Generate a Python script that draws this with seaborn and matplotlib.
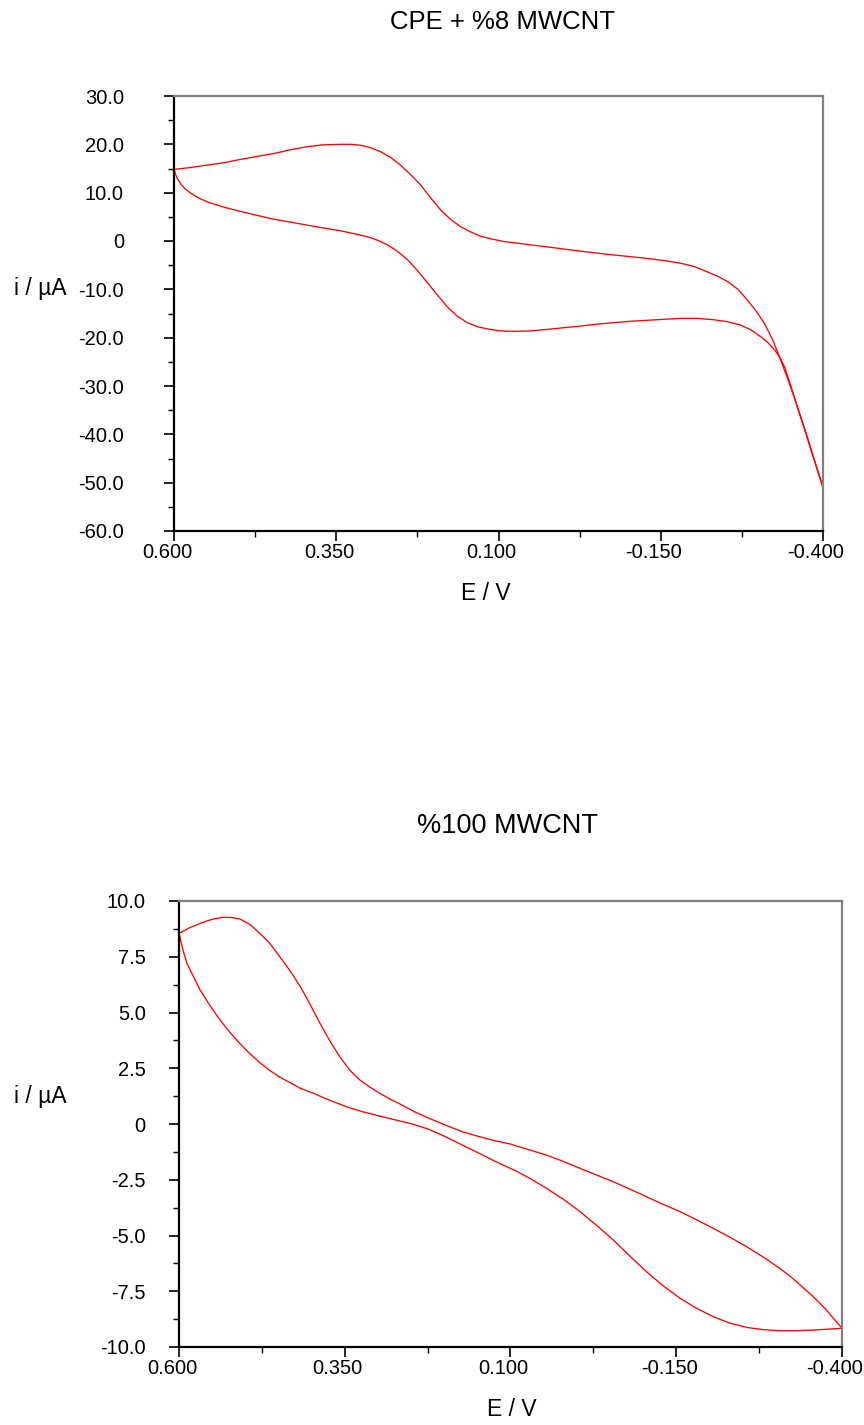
import matplotlib
matplotlib.use("Agg")
import matplotlib.pyplot as plt
import matplotlib.transforms as mtransforms
from matplotlib.ticker import FixedLocator, MultipleLocator
import pandas as pd
import seaborn as sns

# CPE + %8 MWCNT: cathodic sweep 0.600 -> -0.400 V
cpe_fwd_e = [0.600, 0.575, 0.549, 0.523, 0.497, 0.472, 0.446, 0.420, 0.395, 0.370,
             0.343, 0.327, 0.312, 0.297, 0.282, 0.266, 0.251, 0.236, 0.220, 0.205,
             0.189, 0.174, 0.159, 0.143, 0.128, 0.110, 0.092, 0.077, 0.050, 0.026,
             0.000, -0.026, -0.052, -0.078, -0.104, -0.129, -0.155, -0.181, -0.202, -0.222,
             -0.238, -0.253, -0.269, -0.284, -0.297, -0.310, -0.323, -0.335, -0.348, -0.361,
             -0.374, -0.387, -0.400]
cpe_fwd_i = [14.8, 15.2, 15.7, 16.2, 16.9, 17.5, 18.1, 18.9, 19.5, 19.9,
             20.0, 20.0, 19.8, 19.3, 18.5, 17.3, 15.7, 13.8, 11.6, 9.0,
             6.4, 4.5, 3.0, 1.9, 1.0, 0.4, -0.1, -0.35, -0.8, -1.2,
             -1.65, -2.1, -2.5, -2.9, -3.25, -3.6, -4.05, -4.6, -5.3, -6.4,
             -7.3, -8.4, -10.0, -12.3, -14.5, -17.1, -20.6, -24.7, -29.4, -34.4,
             -39.8, -45.4, -51.0]
# CPE + %8 MWCNT: anodic sweep -0.400 -> 0.600 V
cpe_rev_e = [-0.400, -0.387, -0.374, -0.361, -0.351, -0.341, -0.334, -0.326, -0.315, -0.304,
             -0.289, -0.273, -0.253, -0.232, -0.207, -0.181, -0.155, -0.129, -0.104, -0.078,
             -0.052, -0.026, 0.000, 0.026, 0.050, 0.077, 0.097, 0.117, 0.133, 0.148,
             0.164, 0.179, 0.194, 0.209, 0.225, 0.240, 0.256, 0.271, 0.287, 0.302,
             0.322, 0.343, 0.370, 0.395, 0.420, 0.446, 0.472, 0.497, 0.523, 0.549,
             0.562, 0.574, 0.583, 0.590, 0.596, 0.600]
cpe_rev_i = [-51.0, -45.6, -40.0, -34.6, -30.2, -26.1, -24.2, -22.6, -21.0, -19.8,
             -18.4, -17.4, -16.7, -16.3, -16.0, -16.0, -16.2, -16.4, -16.6, -16.9,
             -17.2, -17.6, -17.95, -18.3, -18.6, -18.7, -18.6, -18.2, -17.7, -16.9,
             -15.5, -13.6, -11.2, -8.7, -6.1, -3.9, -2.1, -0.8, 0.2, 0.9,
             1.5, 2.1, 2.7, 3.3, 3.9, 4.5, 5.3, 6.1, 7.0, 8.1,
             8.9, 9.9, 10.8, 11.9, 13.2, 14.8]

# %100 MWCNT: cathodic sweep 0.600 -> -0.400 V
mw_fwd_e = [0.600, 0.584, 0.568, 0.550, 0.533, 0.520, 0.508, 0.493, 0.478, 0.463,
            0.448, 0.432, 0.417, 0.402, 0.387, 0.372, 0.357, 0.342, 0.327, 0.312,
            0.297, 0.282, 0.267, 0.245, 0.223, 0.198, 0.173, 0.148, 0.122, 0.100,
            0.087, 0.046, 0.020, -0.005, -0.030, -0.055, -0.080, -0.105, -0.130, -0.156,
            -0.181, -0.206, -0.231, -0.256, -0.281, -0.306, -0.322, -0.337, -0.352, -0.367,
            -0.377, -0.387, -0.394, -0.400]
mw_fwd_i = [8.55, 8.8, 9.0, 9.18, 9.27, 9.26, 9.19, 8.95, 8.55, 8.1,
            7.5, 6.85, 6.16, 5.35, 4.5, 3.7, 3.0, 2.4, 1.97, 1.65,
            1.38, 1.12, 0.9, 0.55, 0.26, -0.05, -0.34, -0.56, -0.76, -0.9,
            -1.02, -1.39, -1.68, -1.99, -2.29, -2.59, -2.92, -3.26, -3.6, -3.93,
            -4.3, -4.68, -5.08, -5.5, -5.96, -6.47, -6.83, -7.22, -7.62, -8.04,
            -8.36, -8.71, -8.95, -9.16]
# %100 MWCNT: anodic sweep -0.400 -> 0.600 V
mw_rev_e = [-0.400, -0.380, -0.357, -0.331, -0.306, -0.281, -0.256, -0.231, -0.206, -0.181,
            -0.156, -0.130, -0.105, -0.080, -0.055, -0.030, -0.005, 0.020, 0.046, 0.070,
            0.092, 0.122, 0.148, 0.173, 0.198, 0.223, 0.248, 0.273, 0.298, 0.323,
            0.348, 0.374, 0.395, 0.417, 0.432, 0.448, 0.463, 0.478, 0.493, 0.508,
            0.523, 0.538, 0.553, 0.568, 0.578, 0.588, 0.594, 0.600]
mw_rev_i = [-9.16, -9.2, -9.24, -9.27, -9.27, -9.22, -9.12, -8.93, -8.64, -8.27,
            -7.82, -7.25, -6.62, -5.92, -5.2, -4.55, -3.93, -3.38, -2.88, -2.45,
            -2.1, -1.69, -1.3, -0.94, -0.57, -0.24, 0.0, 0.18, 0.36, 0.55,
            0.78, 1.08, 1.35, 1.6, 1.85, 2.1, 2.4, 2.75, 3.15, 3.6,
            4.1, 4.66, 5.3, 6.0, 6.6, 7.2, 7.8, 8.55]

x_ticks = [0.600, 0.350, 0.100, -0.150, -0.400]
x_tick_labels = ["0.600", "0.350", "0.100", "-0.150", "-0.400"]

cpe_y_ticks = [30, 20, 10, 0, -10, -20, -30, -40, -50, -60]
cpe_y_labels = ["30.0", "20.0", "10.0", "0", "-10.0", "-20.0", "-30.0", "-40.0", "-50.0", "-60.0"]
mw_y_ticks = [10, 7.5, 5, 2.5, 0, -2.5, -5, -7.5, -10]
mw_y_labels = ["10.0", "7.5", "5.0", "2.5", "0", "-2.5", "-5.0", "-7.5", "-10.0"]

sns.set_style("white")
plt.rcParams["font.family"] = ["Liberation Sans", "DejaVu Sans"]
plt.rcParams["text.color"] = "black"

W, H = 864, 1425
fig = plt.figure(figsize=(W / 100, H / 100), dpi=100)


def sweep_frame(fwd_e, fwd_i, rev_e, rev_i):
    return pd.DataFrame({
        "E": fwd_e + rev_e,
        "i": fwd_i + rev_i,
        "sweep": ["cathodic"] * len(fwd_e) + ["anodic"] * len(rev_e),
    })


def draw_panel(rect, df, yticks, ylabels, yminor, ylab_pad):
    l, t, r, b = rect
    ax = fig.add_axes([l / W, 1 - b / H, (r - l) / W, (b - t) / H])
    sns.lineplot(data=df, x="E", y="i", units="sweep", estimator=None, sort=False,
                 color="#ff0000", linewidth=0.95, ax=ax)
    ax.set_xlim(x_ticks[0], x_ticks[-1])
    ax.set_ylim(yticks[-1], yticks[0])
    ax.set_xlabel("")
    ax.set_ylabel("")

    ax.xaxis.set_major_locator(FixedLocator(x_ticks))
    ax.set_xticklabels(x_tick_labels)
    mids = [(a + c) / 2 for a, c in zip(x_ticks[:-1], x_ticks[1:])]
    ax.xaxis.set_minor_locator(FixedLocator(mids))
    ax.yaxis.set_major_locator(FixedLocator(yticks))
    ax.set_yticklabels(ylabels)
    ax.yaxis.set_minor_locator(MultipleLocator(yminor))

    for side in ("left", "bottom"):
        ax.spines[side].set_color("black")
        ax.spines[side].set_linewidth(1.6)
    for side in ("top", "right"):
        ax.spines[side].set_color("#808080")
        ax.spines[side].set_linewidth(1.6)

    ax.tick_params(axis="both", which="major", direction="out", length=7, width=1.2,
                   color="black", labelsize=14.5, labelcolor="black")
    ax.tick_params(axis="both", which="minor", direction="out", length=4.5, width=1.0,
                   color="black")
    ax.tick_params(axis="x", which="both", pad=2, top=False, bottom=True)
    ax.tick_params(axis="y", which="both", pad=ylab_pad, right=False, left=True)

    # the x tick labels sit a little to the left of their ticks
    shift = mtransforms.ScaledTranslation(-7 / 100, 0, fig.dpi_scale_trans)
    for lab in ax.get_xticklabels():
        lab.set_transform(lab.get_transform() + shift)
    return ax


cpe_df = sweep_frame(cpe_fwd_e, cpe_fwd_i, cpe_rev_e, cpe_rev_i)
mw_df = sweep_frame(mw_fwd_e, mw_fwd_i, mw_rev_e, mw_rev_i)

draw_panel((174, 96, 823, 531), cpe_df, cpe_y_ticks, cpe_y_labels, 5, 29)
draw_panel((179, 901, 842, 1347), mw_df, mw_y_ticks, mw_y_labels, 1.25, 17)

fig.text(502 / W, 1 - 22 / H, "CPE + %8 MWCNT", ha="center", va="center", fontsize=18.5)
fig.text(508 / W, 1 - 826 / H, "%100 MWCNT", ha="center", va="center", fontsize=19.5)
fig.text(486 / W, 1 - 593 / H, "E / V", ha="center", va="center", fontsize=16.5)
fig.text(512 / W, 1 - 1410 / H, "E / V", ha="center", va="center", fontsize=16.5)
fig.text(14 / W, 1 - 289 / H, "i / µA", ha="left", va="center", fontsize=16.5)
fig.text(14 / W, 1 - 1097 / H, "i / µA", ha="left", va="center", fontsize=16.5)

fig.savefig("out.png", dpi=100)
